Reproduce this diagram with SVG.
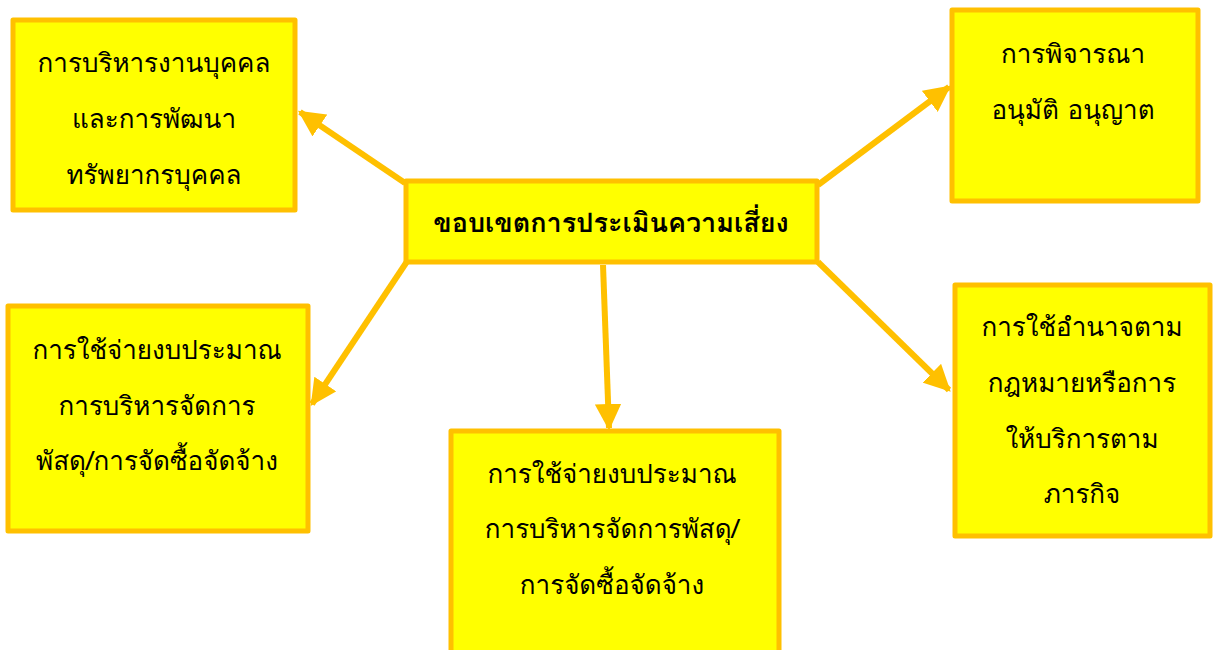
<svg xmlns="http://www.w3.org/2000/svg" width="1213" height="650" viewBox="0 0 1213 650">
<style>
.box{fill:#FFFF00;stroke:#FFC000;stroke-width:5;stroke-linejoin:round}
.t{font-family:"Leelawadee UI","Tahoma","Loma","Garuda","Noto Sans Thai Looped","Noto Sans Thai","Noto Sans","DejaVu Sans",sans-serif;font-size:26px;fill:#000;text-anchor:middle}
.b{font-weight:bold;font-size:27px}
.c{stroke:#FFC000;stroke-width:6;fill:none}
</style>
<defs>
<marker id="ah" markerWidth="4.4" markerHeight="4.4" refX="4" refY="2.2" orient="auto" markerUnits="strokeWidth">
<path d="M0,0 L4.4,2.2 L0,4.4 Z" fill="#FFC000"/>
</marker>
</defs>
<g id="connectors">
<line class="c" x1="405" y1="183" x2="300" y2="112" marker-end="url(#ah)"/>
<line class="c" x1="818" y1="185" x2="949" y2="87" marker-end="url(#ah)"/>
<line class="c" x1="408" y1="260" x2="312" y2="404" marker-end="url(#ah)"/>
<line class="c" x1="603" y1="265" x2="609" y2="428" marker-end="url(#ah)"/>
<line class="c" x1="818" y1="262" x2="949" y2="390" marker-end="url(#ah)"/>
</g>
<g id="n1">
<rect class="box" x="13" y="20" width="282" height="190"/>
<text class="t" x="154" y="72">การบริหารงานบุคคล</text>
<text class="t" x="154" y="128">และการพัฒนา</text>
<text class="t" x="154" y="184">ทรัพยากรบุคคล</text>
</g>
<g id="n0">
<rect class="box" x="406" y="181" width="411" height="81"/>
<text class="t b" x="611" y="232">ขอบเขตการประเมินความเสี่ยง</text>
</g>
<g id="n2">
<rect class="box" x="952" y="10" width="246" height="191"/>
<text class="t" x="1073" y="63">การพิจารณา</text>
<text class="t" x="1073" y="119">อนุมัติ อนุญาต</text>
</g>
<g id="n3">
<rect class="box" x="8" y="306" width="300" height="225"/>
<text class="t" x="157" y="359">การใช้จ่ายงบประมาณ</text>
<text class="t" x="157" y="415">การบริหารจัดการ</text>
<text class="t" x="157" y="470">พัสดุ/การจัดซื้อจัดจ้าง</text>
</g>
<g id="n4">
<rect class="box" x="451" y="431" width="328" height="230"/>
<text class="t" x="612" y="483">การใช้จ่ายงบประมาณ</text>
<text class="t" x="612" y="538">การบริหารจัดการพัสดุ/</text>
<text class="t" x="612" y="594">การจัดซื้อจัดจ้าง</text>
</g>
<g id="n5">
<rect class="box" x="955" y="285" width="255" height="251"/>
<text class="t" x="1082" y="336">การใช้อำนาจตาม</text>
<text class="t" x="1082" y="392">กฎหมายหรือการ</text>
<text class="t" x="1082" y="448">ให้บริการตาม</text>
<text class="t" x="1082" y="503">ภารกิจ</text>
</g>
</svg>
